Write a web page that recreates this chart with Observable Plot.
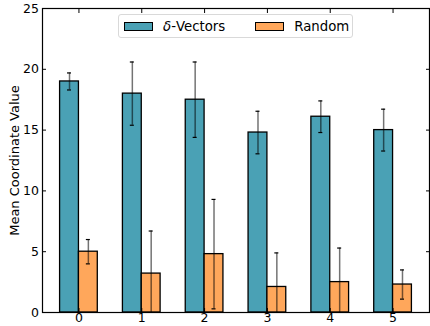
<!DOCTYPE html>
<html><head><meta charset="utf-8">
<script src="https://cdn.jsdelivr.net/npm/d3@7"></script>
<script src="https://cdn.jsdelivr.net/npm/@observablehq/plot@0.6"></script>
<style>
body{margin:0;background:#fff;font-family:"DejaVu Sans",sans-serif;}
#wrap{position:relative;width:430px;height:326px;}
#wrap svg text{font-size:12.5px;font-family:"DejaVu Sans",sans-serif;fill:#000;}
#wrap svg g[aria-label="y-axis label"] text{font-size:13px;}
#legend{position:absolute;left:118px;top:14px;width:235px;height:24px;border:1px solid #d9d9d9;border-radius:3px;background:#fff;display:flex;align-items:center;font-size:13.3px;color:#000;box-sizing:border-box;}
.sw{display:inline-block;width:29px;height:9px;border:1px solid #000;margin-left:5px;margin-right:10px;box-sizing:border-box;}
.item{display:flex;align-items:center;}
</style>
</head><body><div id="wrap"></div>
<script>
const categories = [0, 1, 2, 3, 4, 5];
const seriesNames = ["δ-Vectors", "Random"];
const deltaMean = [19.0, 18.0, 17.5, 14.8, 16.1, 15.0];
const deltaErr  = [0.7, 2.6, 3.1, 1.75, 1.3, 1.72];
const randomMean = [5.0, 3.2, 4.8, 2.1, 2.5, 2.3];
const randomErr  = [1.0, 3.5, 4.5, 2.8, 2.8, 1.2];
const colors = ["#4AA1B5", "#FFA75B"];
const yTicks = [0, 5, 10, 15, 20, 25];

const barW = 0.3;
const rows = [];
categories.forEach((c, i) => {
  rows.push({cat: c, s: 0, x1: c - barW, x2: c, xc: c - barW/2, v: deltaMean[i], e: deltaErr[i]});
  rows.push({cat: c, s: 1, x1: c, x2: c + barW, xc: c + barW/2, v: randomMean[i], e: randomErr[i]});
});
const capHalf = 0.032;

const plot = Plot.plot({
  width: 430, height: 326,
  marginLeft: 42, marginRight: 1, marginTop: 8, marginBottom: 14,
  style: {fontFamily: "DejaVu Sans", fontSize: "12.5px", color: "#000", background: "#fff", overflow: "visible"},
  x: {domain: [-0.58, 5.58]},
  y: {domain: [0, 25]},
  marks: [
    Plot.rect(rows, {x1: "x1", x2: "x2", y1: 0, y2: "v", fill: d => colors[d.s], stroke: "#000", strokeWidth: 1.3}),
    Plot.ruleX(rows, {x: "xc", y1: d => d.v - d.e, y2: d => d.v + d.e, stroke: "#000", strokeOpacity: 0.55, strokeWidth: 1.5, clip: true}),
    Plot.ruleY(rows, {y: d => d.v + d.e, x1: d => d.xc - capHalf, x2: d => d.xc + capHalf, stroke: "#000", strokeWidth: 1.2, clip: true}),
    Plot.ruleY(rows.filter(d => d.v - d.e > 0), {y: d => d.v - d.e, x1: d => d.xc - capHalf, x2: d => d.xc + capHalf, stroke: "#000", strokeWidth: 1.2, clip: true}),
    Plot.axisY(yTicks, {anchor: "left", tickSize: -4, tickPadding: 7.5, label: "Mean Coordinate Value", labelAnchor: "center", labelArrow: "none", labelOffset: 33}),
    Plot.axisY(yTicks, {anchor: "right", tickSize: -4, tickFormat: () => "", label: null}),
    Plot.axisX(categories, {anchor: "bottom", tickSize: -4, tickPadding: 5, label: null}),
    Plot.axisX(categories, {anchor: "top", tickSize: -4, tickFormat: () => "", label: null}),
    Plot.frame({stroke: "#000", strokeWidth: 1.2})
  ]
});
const wrap = document.getElementById("wrap");
wrap.appendChild(plot);
const lg = document.createElement("div");
lg.id = "legend";
seriesNames.forEach((n, i) => {
  const it = document.createElement("div");
  it.className = "item";
  it.style.marginRight = i === 0 ? "25px" : "0";
  const sw = document.createElement("span");
  sw.className = "sw"; sw.style.background = colors[i];
  const t = document.createElement("span");
  if (n.startsWith("δ")) { t.innerHTML = "<i>δ</i>" + n.slice(1); } else t.textContent = n;
  it.appendChild(sw); it.appendChild(t);
  lg.appendChild(it);
});
wrap.appendChild(lg);
</script></body></html>
